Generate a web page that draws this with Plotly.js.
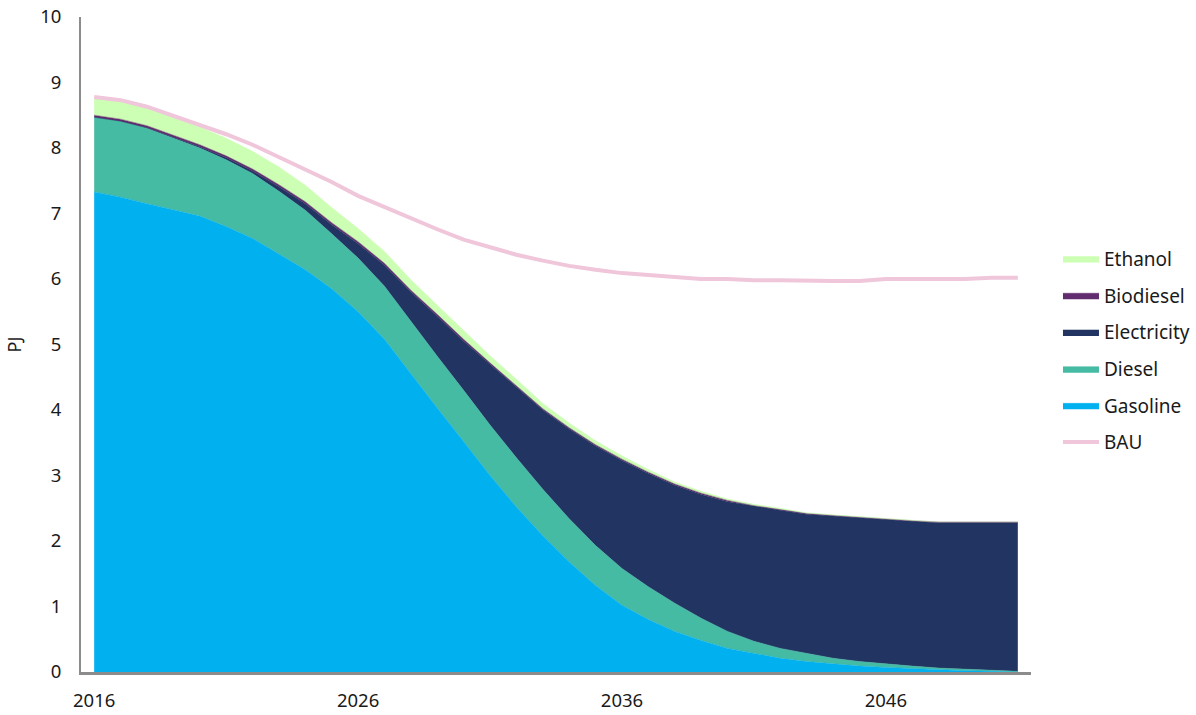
<!DOCTYPE html>
<html>
<head>
<meta charset="utf-8">
<script src="https://cdn.plot.ly/plotly-3.0.1.min.js"></script>
<style>html,body{margin:0;padding:0;background:#fff;}#chart{width:1196px;height:715px;}</style>
</head>
<body>
<div id="chart"></div>
<script>
const years = [2016,2017,2018,2019,2020,2021,2022,2023,2024,2025,2026,2027,2028,2029,2030,2031,2032,2033,2034,2035,2036,2037,2038,2039,2040,2041,2042,2043,2044,2045,2046,2047,2048,2049,2050,2051];
const gasoline = [7.33,7.25,7.15,7.05,6.96,6.80,6.62,6.38,6.14,5.85,5.50,5.08,4.55,4.03,3.52,3.00,2.52,2.08,1.68,1.32,1.02,0.80,0.62,0.48,0.36,0.28,0.21,0.16,0.12,0.09,0.07,0.05,0.03,0.02,0.01,0.00];
const diesel = [1.14,1.16,1.15,1.10,1.04,1.02,0.99,0.96,0.91,0.84,0.82,0.81,0.80,0.79,0.78,0.77,0.75,0.71,0.66,0.61,0.56,0.50,0.43,0.34,0.26,0.19,0.15,0.12,0.09,0.07,0.05,0.04,0.03,0.02,0.01,0.01];
const electricity = [0.00,0.00,0.01,0.01,0.02,0.03,0.04,0.07,0.10,0.14,0.22,0.32,0.45,0.61,0.75,0.93,1.08,1.21,1.37,1.52,1.65,1.73,1.80,1.89,1.98,2.06,2.11,2.13,2.17,2.19,2.21,2.21,2.22,2.24,2.26,2.27];
const biodiesel = [0.03,0.03,0.03,0.03,0.03,0.03,0.03,0.03,0.03,0.03,0.03,0.03,0.03,0.03,0.03,0.02,0.02,0.02,0.02,0.02,0.02,0.02,0.02,0.02,0.02,0.01,0.01,0.01,0.01,0.01,0.01,0.01,0.01,0.01,0.01,0.01];
const ethanol = [0.27,0.27,0.27,0.27,0.27,0.27,0.27,0.27,0.25,0.23,0.20,0.18,0.16,0.14,0.13,0.11,0.10,0.08,0.07,0.06,0.05,0.04,0.03,0.03,0.02,0.02,0.02,0.01,0.01,0.01,0.01,0.01,0.00,0.00,0.00,0.00];
const bau = [8.78,8.73,8.63,8.49,8.35,8.21,8.05,7.86,7.68,7.48,7.27,7.10,6.92,6.76,6.60,6.49,6.37,6.28,6.20,6.14,6.09,6.06,6.03,6.00,6.00,5.98,5.98,5.97,5.97,5.97,6.00,6.00,6.00,6.00,6.02,6.02];

const xTicks = [2016,2026,2036,2046];
const yTicks = [0,1,2,3,4,5,6,7,8,9,10];

function area(name, y, color, rank) {
  return {
    x: years, y: y, name: name, type: 'scatter', mode: 'lines',
    stackgroup: 'one', fillcolor: color,
    line: {color: color, width: 0.5},
    legendrank: rank, legendgroup: name,
    hoverinfo: 'x+y+name'
  };
}

const data = [
  area('Gasoline', gasoline, '#00B0EF', 5),
  area('Diesel', diesel, '#45BBA4', 4),
  area('Electricity', electricity, '#213462', 3),
  area('Biodiesel', biodiesel, '#622D6F', 2),
  area('Ethanol', ethanol, '#CCFFB3', 1),
  {x: years, y: bau, name: 'BAU', type: 'scatter', mode: 'lines',
   line: {color: '#F0C6DB', width: 4}, legendrank: 6, legendgroup: 'BAU'}
];

const layout = {
  width: 1196, height: 715,
  margin: {l: 81, r: 165, t: 17, b: 43, autoexpand: false},
  paper_bgcolor: '#fff', plot_bgcolor: '#fff',
  font: {family: 'Noto Sans, Open Sans, sans-serif', size: 18.5, color: '#1a1a1a'},
  showlegend: true,
  legend: {x: 1.0284, y: 0.66, xanchor: 'left', yanchor: 'top',
    traceorder: 'grouped', tracegroupgap: 9,
    font: {size: 19, color: '#1a1a1a'}, itemwidth: 36},
  xaxis: {range: [2015.5, 2051.5], tickvals: xTicks, ticktext: xTicks.map(String),
    showgrid: false, zeroline: false, showline: true, linecolor: '#8c8c8c', linewidth: 3,
    ticks: '', ticklen: 0, ticklabelstandoff: 10, tickfont: {size: 18.5}},
  yaxis: {range: [0, 10], tickvals: yTicks, showgrid: false, zeroline: false,
    showline: true, linecolor: '#8c8c8c', linewidth: 2, ticks: '',
    ticklabelstandoff: 14,
    title: {text: 'PJ', font: {size: 18}, standoff: 14}, tickfont: {size: 18.5}}
};

Plotly.newPlot('chart', data, layout, {displayModeBar: false, staticPlot: true});
</script>
</body>
</html>
